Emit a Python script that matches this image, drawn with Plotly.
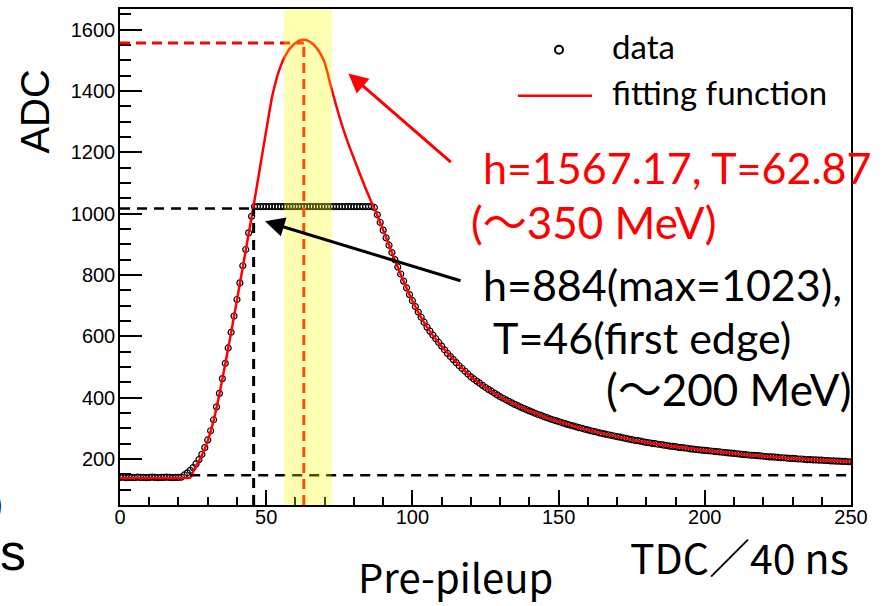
import plotly.graph_objects as go

# ---------------- data ----------------
tdc = list(range(0, 251))

adc = (
    [140, 141, 139, 140, 140, 139, 141, 140, 140, 139,
     140, 141, 140, 139, 140, 140, 141, 140, 139, 140,
     140, 141]                                             # 0-21
    + [148, 155, 163, 172, 184, 198, 215, 237, 262, 292,
       328, 370, 414, 462, 512, 562, 613, 666, 720, 774,
       830, 883, 937, 991]                                 # 22-45
    + [1023] * 41                                          # 46-86 (saturated)
    + [1020, 996, 971, 946]                                # 87-90
    + [921, 897, 873, 850, 826, 803, 780, 758, 736, 716]   # 91-100
    + [697, 679, 662, 646, 630, 617, 604, 592, 580, 568]
    + [556, 544, 534, 524, 514, 504, 495, 486, 477, 468]
    + [461, 454, 447, 440, 433, 427, 421, 415, 409, 403]
    + [398, 393, 388, 383, 378, 374, 369, 365, 361, 357]
    + [353, 349, 345, 342, 338, 335, 331, 328, 325, 322]
    + [319, 316, 313, 310, 308, 305, 302, 300, 297, 295]
    + [292, 290, 288, 285, 283, 281, 279, 277, 275, 273]
    + [271, 269, 267, 265, 263, 261, 260, 258, 256, 254]
    + [253, 251, 250, 248, 247, 245, 244, 242, 241, 240]
    + [238, 237, 236, 235, 233, 232, 231, 230, 229, 228]
    + [227, 226, 225, 224, 223, 222, 221, 220, 219, 218]
    + [217, 216, 215, 214, 213, 212, 212, 211, 210, 209]
    + [208, 207, 207, 206, 205, 204, 204, 203, 202, 202]
    + [201, 200, 200, 199, 198, 198, 197, 197, 196, 196]
    + [195, 195, 194, 194, 193, 193, 192, 192, 191, 191]   # 241-250
)
assert len(adc) == len(tdc)

fit_x = [0, 10, 20, 23, 24, 25, 26, 28, 30, 32, 34, 36, 38, 40, 42, 44,
         46, 48, 50, 52, 53, 54, 56, 58, 60, 62, 63, 64, 66, 68, 70, 72,
         74, 76, 78, 80, 82, 84, 86, 88, 90, 95, 100, 105, 110, 120, 130,
         140, 150, 160, 170, 180, 190, 200, 210, 220, 230, 240, 250]
fit_y = [138, 138, 138, 138, 139, 158, 177, 212, 259, 325, 412, 510, 612, 718, 826, 934,
         1043, 1157, 1270, 1380, 1420, 1455, 1505, 1537, 1556, 1566, 1567, 1565, 1553, 1530, 1492, 1420,
         1350, 1286, 1230, 1180, 1130, 1082, 1037, 994, 946, 825, 715, 630, 567, 468, 403,
         357, 322, 295, 273, 254, 240, 228, 218, 209, 202, 196, 191]

fit_peak_T = 62.87
fit_peak_h = 1556
edge_T = 45.7
edge_h = 1017
base_h = 147
band_T = [56.1, 72.4]

x_range = [0, 250]
y_range = [50, 1667]

# ---------------- geometry helpers ----------------
L, R, T, B = 120, 33, 7, 101
W, H = 884, 606
PW, PH = W - L - R, H - T - B


def px(x):
    return (x - L) / PW


def py(y):
    return (H - B - y) / PH


fig = go.Figure()

fig.add_trace(go.Scatter(
    x=tdc, y=adc, mode="markers", name="data",
    marker=dict(symbol="circle-open", size=6, color="black",
                line=dict(width=1.2, color="black")),
    cliponaxis=True,
))
fig.add_trace(go.Scatter(
    x=fit_x, y=fit_y, mode="lines", name="fitting function",
    line=dict(color="#ff0000", width=2.5, shape="spline", smoothing=0.6),
))

shapes = []
# dashed guide lines
shapes.append(dict(type="line", xref="x", yref="y", x0=0, x1=fit_peak_T,
                   y0=fit_peak_h, y1=fit_peak_h,
                   line=dict(color="#ff0000", width=3, dash="10px,6px")))
shapes.append(dict(type="line", xref="x", yref="y", x0=fit_peak_T, x1=fit_peak_T,
                   y0=y_range[0], y1=fit_peak_h,
                   line=dict(color="#ff0000", width=3, dash="10px,6px")))
shapes.append(dict(type="line", xref="x", yref="y", x0=0, x1=edge_T,
                   y0=edge_h, y1=edge_h,
                   line=dict(color="black", width=2.5, dash="10px,7px")))
shapes.append(dict(type="line", xref="x", yref="y", x0=edge_T, x1=edge_T,
                   y0=y_range[0], y1=edge_h,
                   line=dict(color="black", width=3, dash="10px,7px")))
shapes.append(dict(type="line", xref="x", yref="y", x0=24, x1=250,
                   y0=base_h, y1=base_h,
                   line=dict(color="black", width=2.5, dash="10px,7px")))
# translucent yellow band (on top)
shapes.append(dict(type="rect", xref="x", yref="y", x0=band_T[0], x1=band_T[1],
                   y0=y_range[0], y1=y_range[1], layer="above",
                   fillcolor="rgba(255,255,0,0.3)", line=dict(width=0)))
# legend symbols
r = 4
shapes.append(dict(type="circle", xref="paper", yref="paper",
                   x0=px(559 - r), x1=px(559 + r), y0=py(48 + r), y1=py(48 - r),
                   line=dict(color="black", width=2)))
shapes.append(dict(type="line", xref="paper", yref="paper",
                   x0=px(518), x1=px(592), y0=py(94), y1=py(94),
                   line=dict(color="#ff0000", width=2.5)))

TXT = "Lato, 'Noto Sans CJK JP'"
ann = []


def text(s, x, y, size, color="black", family=TXT, xanchor="left", **kw):
    ann.append(dict(text=s, xref="paper", yref="paper", x=px(x), y=py(y),
                    xanchor=xanchor, yanchor="middle", showarrow=False,
                    font=dict(family=family, size=size, color=color), **kw))


text("data", 610, 44, 33)
text("fitting function", 610, 90, 33)
text("h=1567.17, T=62.87", 481, 166, 43, color="#ff0000")
text("(～350 MeV)", 469, 221, 44, color="#ff0000")
text("h=884(max=1023),", 481, 284, 43)
text("T=46(first edge)", 491, 337, 43)
text("(～200 MeV)", 604, 389, 44)
text("ADC", 35, 110, 40, family="'Liberation Sans', Arial", xanchor="center",
     textangle=-90)
text("TDC／40 ns", 628, 556, 41, family="'Noto Sans CJK JP'")
text("Pre-pileup", 356, 576, 40, family="'Noto Sans CJK JP'")
text("s", 13, 552, 52, family="'Liberation Sans', Arial", xanchor="center")
text(")", 5, 503, 36, family="'Liberation Sans', Arial", xanchor="right")

# arrows
ann.append(dict(x=78.1, y=1457, xref="x", yref="y", ax=104, ay=90, axref="pixel",
                ayref="pixel", showarrow=True, arrowhead=2, arrowsize=1.3,
                arrowwidth=3, arrowcolor="#ff0000", text=""))
ann.append(dict(x=49.6, y=975, xref="x", yref="y", ax=197, ay=60, axref="pixel",
                ayref="pixel", showarrow=True, arrowhead=2, arrowsize=1.3,
                arrowwidth=3, arrowcolor="black", text=""))

tickfont = dict(family="'Liberation Sans', Arial", size=20, color="black")
fig.update_layout(
    width=W, height=H,
    margin=dict(l=L, r=R, t=T, b=B, pad=0),
    paper_bgcolor="white", plot_bgcolor="white",
    showlegend=False,
    shapes=shapes, annotations=ann,
    xaxis=dict(range=x_range, showgrid=False, zeroline=False, showline=True,
               linecolor="black", linewidth=1.5, mirror=True,
               ticks="inside", ticklen=15, tickwidth=1.5, tickcolor="black",
               tick0=0, dtick=50, tickfont=tickfont, ticklabelstandoff=-7,
               minor=dict(dtick=10, ticks="inside", ticklen=8, tickwidth=1.5,
                          tickcolor="black", showgrid=False)),
    yaxis=dict(range=y_range, showgrid=False, zeroline=False, showline=True,
               linecolor="black", linewidth=1.5, mirror=True,
               ticks="inside", ticklen=22, tickwidth=1.5, tickcolor="black",
               tick0=0, dtick=200, tickfont=tickfont, ticklabelstandoff=-1,
               minor=dict(dtick=50, ticks="inside", ticklen=11, tickwidth=1.5,
                          tickcolor="black", showgrid=False)),
)

fig.write_html("out.html")
